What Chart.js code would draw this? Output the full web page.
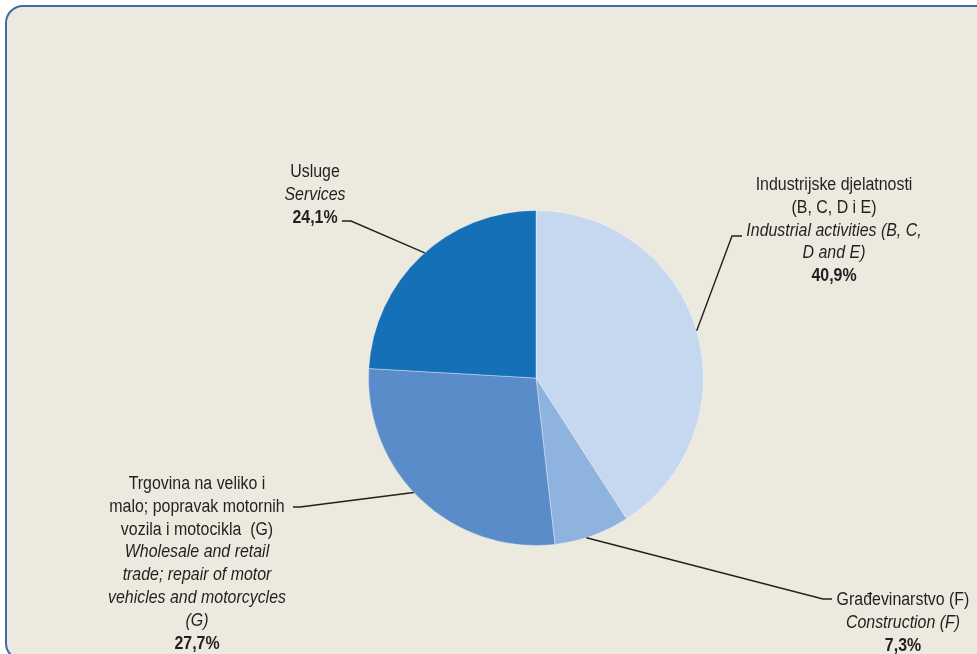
<!DOCTYPE html>
<html>
<head>
<meta charset="utf-8">
<script src="https://cdn.jsdelivr.net/npm/chart.js@4/dist/chart.umd.min.js"></script>
<style>
html,body{margin:0;padding:0;background:#fff;overflow:hidden}
#wrap{position:relative;width:977px;height:654px;overflow:hidden}
#box{position:absolute;left:5px;top:5px;width:990px;height:656px;background:#ECE9DF;border:2px solid #3D6CA6;border-radius:18px;box-sizing:border-box}
#chart{position:absolute;left:0;top:0}
</style>
</head>
<body>
<div id="wrap">
<div id="box"></div>
<canvas id="chart" width="977" height="654"></canvas>
</div>
<script>

const labelsHr=["Industrijske djelatnosti (B, C, D i E)","Građevinarstvo (F)","Trgovina na veliko i malo; popravak motornih vozila i motocikla (G)","Usluge"]
const labelsEn=["Industrial activities (B, C, D and E)","Construction (F)","Wholesale and retail trade; repair of motor vehicles and motorcycles (G)","Services"]
const shares=[40.9,7.3,27.7,24.1]
const colors=["#C5D8EF","#8FB3DF","#598CC8","#1670B8"]

// label text lines (0 = normal, 1 = italic), layout below
const labelLines=[
[["Industrijske djelatnosti",0],["(B, C, D i E)",0],["Industrial activities (B, C,",1],["D and E)",1]],
[["Građevinarstvo (F)",0],["Construction (F)",1]],
[["Trgovina na veliko i",0],["malo; popravak motornih",0],["vozila i motocikla  (G)",0],["Wholesale and retail",1],["trade; repair of motor",1],["vehicles and motorcycles",1],["(G)",1]],
[["Usluge",0],["Services",1]]
]
const labelPos=[
{x:834,y:185,elbow:[732,236],end:[742,236]},
{x:903,y:600,elbow:[823,599],end:[832,599]},
{x:197,y:484,elbow:[300,507],end:[293,507]},
{x:315,y:172,elbow:[351,221],end:[342,221]}
]
// where along each slice's rim the leader line starts
const edgeFrac=[0.5,0.58,0.535,0.52]

const FONT="'Liberation Sans',Arial,sans-serif"
const FS=18
const LH=22.8
const SQUEEZE=0.885

function pct(v){
return v.toFixed(1).replace(".",",")+"%"
}

function narrowText(ctx,txt,x,y){
ctx.save()
ctx.translate(x,y)
ctx.scale(SQUEEZE,1)
ctx.fillText(txt,0,0)
ctx.restore()
}

const labelPlugin={
id:"pieLabels",
afterDraw(chart){
const ctx=chart.ctx
const arcs=chart.getDatasetMeta(0).data
ctx.save()
ctx.strokeStyle="#231F20"
ctx.lineWidth=1.4
ctx.fillStyle="#231F20"
ctx.textAlign="center"
ctx.textBaseline="middle"
arcs.forEach((arc,i)=>{
const p=labelPos[i]
const a=arc.startAngle+(arc.endAngle-arc.startAngle)*edgeFrac[i]
const sx=arc.x+Math.cos(a)*arc.outerRadius
const sy=arc.y+Math.sin(a)*arc.outerRadius
ctx.beginPath()
ctx.moveTo(sx,sy)
ctx.lineTo(p.elbow[0],p.elbow[1])
ctx.lineTo(p.end[0],p.end[1])
ctx.stroke()
let y=p.y
labelLines[i].forEach(l=>{
ctx.font=(l[1]?"italic ":"")+FS+"px "+FONT
narrowText(ctx,l[0],p.x,y)
y+=LH
})
ctx.font="bold "+FS+"px "+FONT
narrowText(ctx,pct(shares[i]),p.x,y)
})
ctx.restore()
}
}

new Chart(document.getElementById("chart"),{
type:"pie",
data:{
labels:labelsHr,
datasets:[{
data:shares,
backgroundColor:colors,
borderColor:"rgba(255,255,255,0.35)",
borderWidth:1
}]
},
options:{
responsive:false,
animation:false,
layout:{padding:{left:368,right:273,top:210,bottom:108}},
plugins:{legend:{display:false},tooltip:{enabled:false}}
},
plugins:[labelPlugin]
})

</script>
</body>
</html>
